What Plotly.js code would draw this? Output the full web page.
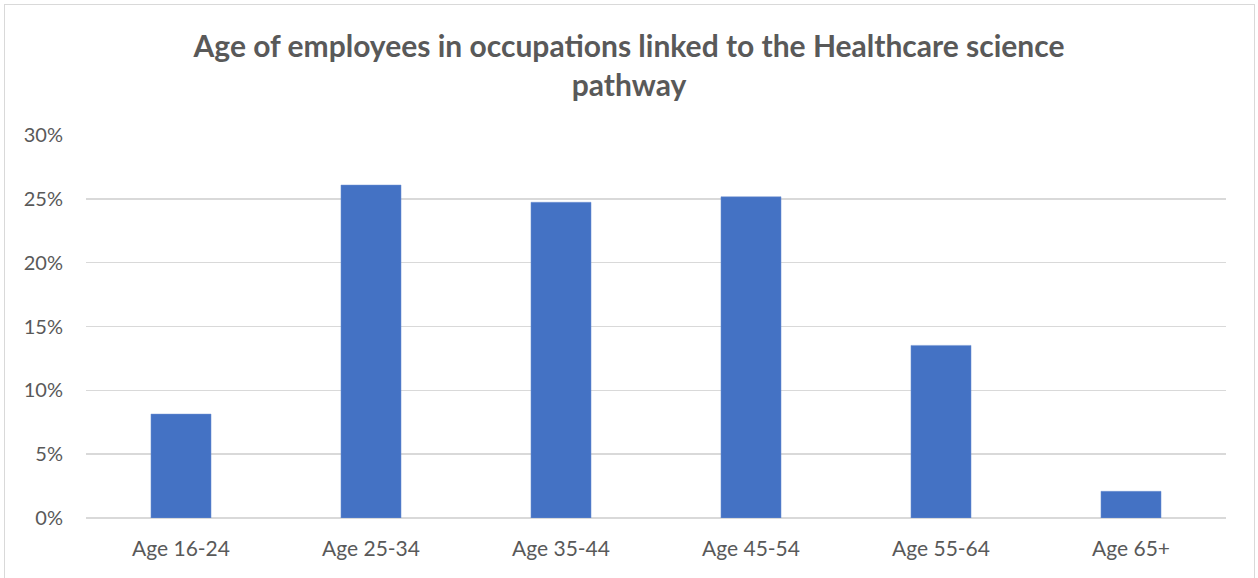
<!DOCTYPE html>
<html>
<head>
<meta charset="utf-8">
<script src="https://cdn.plot.ly/plotly-3.0.1.min.js"></script>
<style>
  html, body { margin: 0; padding: 0; background: #fff; }
  #chart { width: 1258px; height: 578px; }
  #frame { position: absolute; left: 4px; top: 4px; width: 1249px; height: 590px; border: 1.5px solid #d9d9d9; pointer-events: none; }
</style>
</head>
<body>
<div id="chart"></div>
<div id="frame"></div>
<script>
const categories = ["Age 16-24", "Age 25-34", "Age 35-44", "Age 45-54", "Age 55-64", "Age 65+"];
const shares = [0.0814, 0.2608, 0.2473, 0.2516, 0.1352, 0.0209];
const yTickValues = [0, 0.05, 0.10, 0.15, 0.20, 0.25, 0.30];
const yTickLabels = ["0%", "5%", "10%", "15%", "20%", "25%", "30%"];
const chartTitle = "Age of employees in occupations linked to the Healthcare science<br>pathway";

const font = "Lato, 'Liberation Sans', sans-serif";

Plotly.newPlot("chart", [{
  type: "bar",
  x: categories,
  y: shares,
  marker: { color: "#4472c4", line: { color: "#6f91d0", width: 0.5 } },
  hoverinfo: "x+y"
}], {
  width: 1258,
  height: 578,
  margin: { l: 86, r: 32, t: 135, b: 60 },
  paper_bgcolor: "#ffffff",
  plot_bgcolor: "#ffffff",
  bargap: 0.684,
  showlegend: false,
  title: {
    text: chartTitle,
    font: { family: font, size: 30, color: "#595959", weight: "bold" },
    x: 0.5, xref: "container", xanchor: "center",
    y: 0.901, yref: "container", yanchor: "middle"
  },
  xaxis: {
    type: "category",
    showgrid: false,
    showline: false,
    zeroline: false,
    ticks: "",
    tickfont: { family: font, size: 21, color: "#595959" },
    ticklabelstandoff: 16
  },
  yaxis: {
    range: [0, 0.30],
    tickvals: yTickValues,
    ticktext: yTickLabels,
    showgrid: true,
    gridcolor: "#d9d9d9",
    gridwidth: 1.5,
    zeroline: true,
    zerolinecolor: "#d9d9d9",
    zerolinewidth: 1.5,
    showline: false,
    ticks: "",
    tickfont: { family: font, size: 20, color: "#595959" },
    ticklabelstandoff: 22
  }
}, { displayModeBar: false, staticPlot: true });
</script>
</body>
</html>
